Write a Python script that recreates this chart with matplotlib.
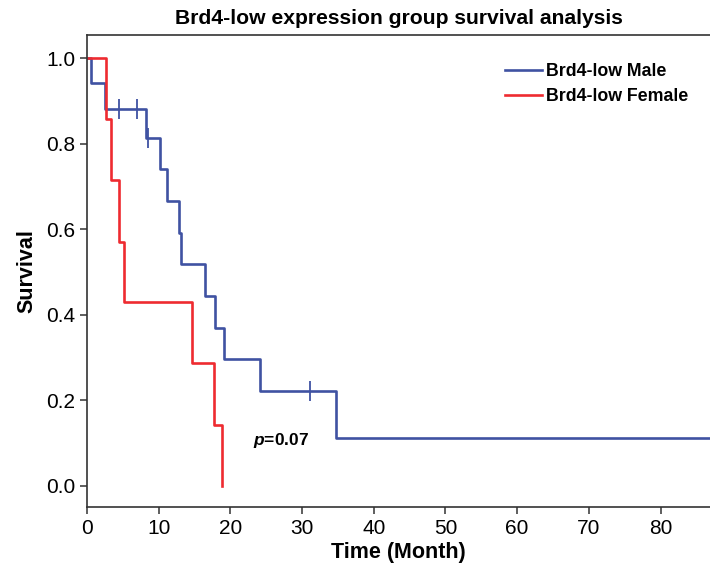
import matplotlib
matplotlib.use("Agg")
import matplotlib.pyplot as plt

# Kaplan-Meier steps
male_t = [0, 0.6, 2.5, 8.3, 10.2, 11.2, 12.8, 13.1, 16.4, 17.9, 19.1, 24.1, 34.7, 87]
male_s = [1.0, 0.941, 0.882, 0.814, 0.740, 0.666, 0.592, 0.518, 0.444, 0.370, 0.296, 0.222, 0.111, 0.111]
male_cens_t = [4.5, 7.0, 8.55, 31.1]
male_cens_s = [0.882, 0.882, 0.814, 0.222]

female_t = [0, 2.65, 3.4, 4.45, 5.15, 14.7, 17.7, 18.9]
female_s = [1.0, 0.857, 0.714, 0.571, 0.429, 0.286, 0.143, 0.0]

blue = "#3f52a2"
red = "#ee2b30"

plt.rcParams['font.family'] = ['Liberation Sans', 'DejaVu Sans']
plt.rcParams['mathtext.fontset'] = 'custom'
plt.rcParams['mathtext.it'] = 'Liberation Sans:italic:bold'

fig = plt.figure(figsize=(7.1, 5.66), dpi=100)
ax = fig.add_axes([0.1225, 0.104, 0.8775, 0.834])

ax.step(male_t, male_s, where='post', color=blue, lw=1.9, label='Brd4-low Male')
ax.step(female_t, female_s, where='post', color=red, lw=1.9, label='Brd4-low Female')
ax.plot(male_cens_t, male_cens_s, ls='none', marker='|', ms=14, mew=1.3, color=blue)

ax.set_xlim(0, 86.9)
ax.set_ylim(-0.05, 1.054)
ax.set_xticks(range(0, 81, 10))
ax.set_yticks([0.0, 0.2, 0.4, 0.6, 0.8, 1.0])
ax.set_yticklabels(['0.0', '0.2', '0.4', '0.6', '0.8', '1.0'])

ax.spines['right'].set_visible(False)
for sp in ['left', 'bottom', 'top']:
    ax.spines[sp].set_linewidth(1.2)
    ax.spines[sp].set_color('#333333')

ax.tick_params(direction='out', length=5, width=1.1, color='#333333')
for lab in ax.get_xticklabels() + ax.get_yticklabels():
    lab.set_fontsize(15)

ax.set_xlabel('Time (Month)', fontsize=15.5, fontweight='bold', labelpad=3)
ax.set_ylabel('Survival', fontsize=15.5, fontweight='bold', labelpad=6)
ax.set_title('Brd4-low expression group survival analysis', fontsize=15.2,
             fontweight='bold', pad=8)

ax.text(23.1, 0.105, r'$p$=0.07', fontsize=12.5, fontweight='bold', va='center')

leg = ax.legend(loc='upper right', bbox_to_anchor=(0.99, 0.975), frameon=False,
                prop={'weight': 'bold', 'size': 12.8}, handlelength=2.1,
                handletextpad=0.2, labelspacing=0.45)

fig.savefig('out.png', dpi=100)
